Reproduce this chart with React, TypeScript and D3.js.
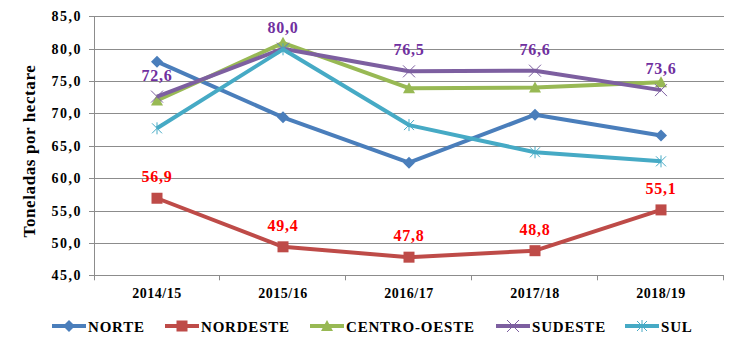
import { useEffect, useRef } from "react"
import * as d3 from "d3"

const categories = ["2014/15", "2015/16", "2016/17", "2017/18", "2018/19"]
const yTicks = [45, 50, 55, 60, 65, 70, 75, 80, 85]

const norte = [78.0, 69.4, 62.4, 69.8, 66.6]
const nordeste = [56.9, 49.4, 47.8, 48.8, 55.1]
const centroOeste = [72.0, 80.9, 73.9, 74.0, 74.8]
const sudeste = [72.6, 80.0, 76.5, 76.6, 73.6]
const sul = [67.7, 79.9, 68.2, 64.0, 62.6]

const seriesNames = ["NORTE", "NORDESTE", "CENTRO-OESTE", "SUDESTE", "SUL"]

export default function App() {
  const svgRef = useRef<SVGSVGElement>(null)

  useEffect(() => {
    if (!svgRef.current) return
    const svg = d3.select(svgRef.current)
    svg.selectAll("*").remove()

    const font = "Times New Roman, Liberation Serif, Times, serif"
    const left = 94
    const right = 724
    const top = 16.3
    const bottom = 275.3

    const x = d3.scaleBand<string>().domain(categories).range([left, right])
    const y = d3.scaleLinear().domain([45, 85]).range([bottom, top])
    const cx = (c: string) => (x(c) as number) + x.bandwidth() / 2

    const series = [
      { name: seriesNames[0], values: norte, color: "#4A7EBB", marker: "diamond", label: null },
      { name: seriesNames[1], values: nordeste, color: "#BE4B48", marker: "square", label: "#FF0000" },
      { name: seriesNames[2], values: centroOeste, color: "#98B954", marker: "triangle", label: null },
      { name: seriesNames[3], values: sudeste, color: "#7D5FA0", marker: "x", label: "#7030A0" },
      { name: seriesNames[4], values: sul, color: "#46AAC5", marker: "star", label: null },
    ]

    // gridlines
    svg
      .append("g")
      .selectAll("line")
      .data(yTicks)
      .enter()
      .append("line")
      .attr("x1", left - 5)
      .attr("x2", right)
      .attr("y1", (d) => Math.round(y(d)) + 0.5)
      .attr("y2", (d) => Math.round(y(d)) + 0.5)
      .attr("stroke", "#8c8c8c")
      .attr("stroke-width", 1)

    // y axis line
    svg
      .append("line")
      .attr("x1", left + 0.5)
      .attr("x2", left + 0.5)
      .attr("y1", top)
      .attr("y2", bottom + 5)
      .attr("stroke", "#8c8c8c")

    // x ticks
    svg
      .append("g")
      .selectAll("line")
      .data(categories)
      .enter()
      .append("line")
      .attr("x1", (d, i) => Math.round(left + x.bandwidth() * (i + 1)) - 0.5)
      .attr("x2", (d, i) => Math.round(left + x.bandwidth() * (i + 1)) - 0.5)
      .attr("y1", bottom)
      .attr("y2", bottom + 5)
      .attr("stroke", "#8c8c8c")

    // y tick labels
    svg
      .append("g")
      .selectAll("text")
      .data(yTicks)
      .enter()
      .append("text")
      .attr("x", 82)
      .attr("y", (d) => y(d) + 5)
      .attr("text-anchor", "end")
      .attr("font-family", font)
      .attr("font-weight", "bold")
      .attr("font-size", 14)
      .attr("letter-spacing", 1.5)
      .text((d) => d.toFixed(1).replace(".", ","))

    // x labels
    svg
      .append("g")
      .selectAll("text")
      .data(categories)
      .enter()
      .append("text")
      .attr("x", (d) => cx(d))
      .attr("y", 298)
      .attr("text-anchor", "middle")
      .attr("font-family", font)
      .attr("font-weight", "bold")
      .attr("font-size", 14)
      .attr("letter-spacing", 0.5)
      .text((d) => d)

    // y title
    svg
      .append("text")
      .attr("transform", `translate(35, 151) rotate(-90)`)
      .attr("text-anchor", "middle")
      .attr("font-family", font)
      .attr("font-weight", "bold")
      .attr("font-size", 17)
      .attr("letter-spacing", 0.6)
      .text("Toneladas por hectare")

    const drawMarker = (g: any, kind: string, px: number, py: number, color: string) => {
      if (kind === "diamond") {
        g.append("path")
          .attr("d", `M${px},${py - 6}L${px + 6},${py}L${px},${py + 6}L${px - 6},${py}Z`)
          .attr("fill", color)
      } else if (kind === "square") {
        g.append("rect")
          .attr("x", px - 5.5)
          .attr("y", py - 5.5)
          .attr("width", 11)
          .attr("height", 11)
          .attr("fill", color)
      } else if (kind === "triangle") {
        g.append("path")
          .attr("d", `M${px},${py - 6}L${px + 6},${py + 5}L${px - 6},${py + 5}Z`)
          .attr("fill", color)
      } else if (kind === "x") {
        g.append("path")
          .attr("d", `M${px - 6},${py - 6}L${px + 6},${py + 6}M${px - 6},${py + 6}L${px + 6},${py - 6}`)
          .attr("stroke", color)
          .attr("stroke-width", 1)
      } else {
        g.append("path")
          .attr(
            "d",
            `M${px - 5},${py - 5}L${px + 5},${py + 5}M${px - 5},${py + 5}L${px + 5},${py - 5}M${px},${py - 6}L${px},${py + 6}`
          )
          .attr("stroke", color)
          .attr("stroke-width", 1)
      }
    }

    const line = d3
      .line<number>()
      .x((d, i) => cx(categories[i]))
      .y((d) => y(d))

    series.forEach((s) => {
      const g = svg.append("g")
      g.append("path")
        .datum(s.values)
        .attr("fill", "none")
        .attr("stroke", s.color)
        .attr("stroke-width", 4)
        .attr("stroke-linejoin", "round")
        .attr("d", line)
      s.values.forEach((v, i) => drawMarker(g, s.marker, cx(categories[i]), y(v), s.color))
    })

    // data labels
    series
      .filter((s) => s.label)
      .forEach((s) => {
        svg
          .append("g")
          .selectAll("text")
          .data(s.values)
          .enter()
          .append("text")
          .attr("x", (d, i) => cx(categories[i]))
          .attr("y", (d) => y(d) - 16)
          .attr("text-anchor", "middle")
          .attr("fill", s.label as string)
          .attr("font-family", font)
          .attr("font-weight", "bold")
          .attr("font-size", 16)
          .attr("letter-spacing", 0.8)
          .text((d) => d.toFixed(1).replace(".", ","))
      })

    // legend
    const legendX = [52, 165, 310, 496, 625]
    const ly = 326
    series.forEach((s, i) => {
      const g = svg.append("g")
      const x0 = legendX[i]
      g.append("line")
        .attr("x1", x0)
        .attr("x2", x0 + 34)
        .attr("y1", ly)
        .attr("y2", ly)
        .attr("stroke", s.color)
        .attr("stroke-width", 4)
      drawMarker(g, s.marker, x0 + 17, ly, s.color)
      g.append("text")
        .attr("x", x0 + 36)
        .attr("y", ly + 5.5)
        .attr("font-family", font)
        .attr("font-weight", "bold")
        .attr("font-size", 15)
        .attr("letter-spacing", 0.8)
        .text(s.name)
    })
  }, [])

  return (
    <svg
      ref={svgRef}
      width={740}
      height={351}
      style={{ position: "absolute", left: 0, top: 0, background: "#fff" }}
    />
  )
}
